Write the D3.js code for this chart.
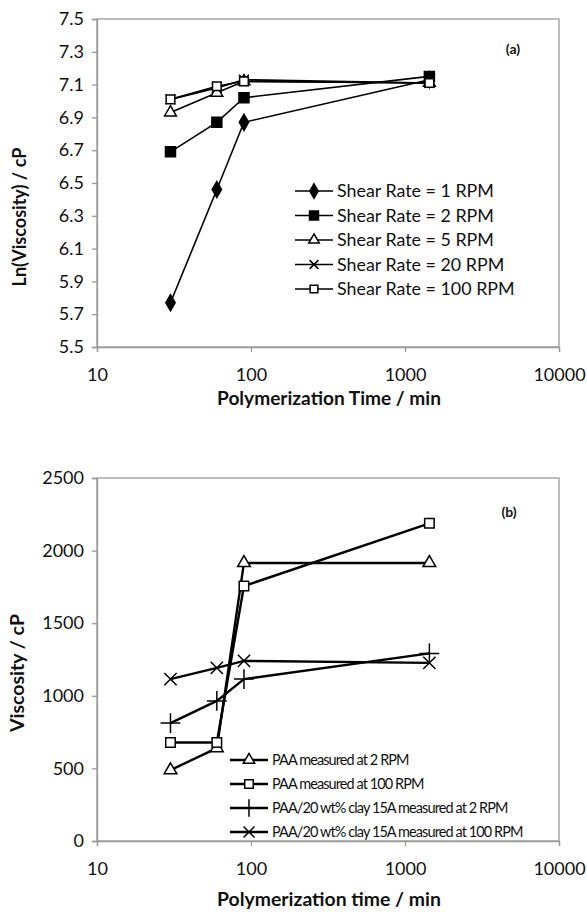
<!DOCTYPE html>
<html>
<head>
<meta charset="utf-8">
<script src="https://cdn.jsdelivr.net/npm/d3@7"></script>
<style>
  body { margin: 0; background: #fff; }
  text { font-family: Lato, "Open Sans", sans-serif; fill: #111; }
</style>
</head>
<body>
<script>
// time points (min)
const times = [30, 60, 90, 1440]

// panel (a) ln(viscosity)
const shearNames = ['Shear Rate = 1 RPM', 'Shear Rate = 2 RPM', 'Shear Rate = 5 RPM', 'Shear Rate = 20 RPM', 'Shear Rate = 100 RPM']
const ln1rpm = [5.77, 6.46, 6.87, 7.13]
const ln2rpm = [6.69, 6.87, 7.02, 7.15]
const ln5rpm = [6.93, 7.05, 7.12, 7.11]
const ln20rpm = [7.01, 7.08, 7.13, 7.11]
const ln100rpm = [7.01, 7.09, 7.12, 7.11]
const lnTicks = [5.5, 5.7, 5.9, 6.1, 6.3, 6.5, 6.7, 6.9, 7.1, 7.3, 7.5]

// panel (b) viscosity
const paaNames = ['PAA measured at 2 RPM', 'PAA measured at 100 RPM', 'PAA/20 wt% clay 15A measured at 2 RPM', 'PAA/20 wt% clay 15A measured at 100 RPM']
const paa2 = [488, 640, 1915, 1915]
const paa100 = [678, 678, 1756, 2188]
const clay2 = [812, 965, 1115, 1292]
const clay100 = [1115, 1192, 1240, 1227]
const viscTicks = [0, 500, 1000, 1500, 2000, 2500]
const timeTicks = [10, 100, 1000, 10000]

const width = 587
const height = 912
const left = 97, right = 559

const svg = d3.select('body').append('svg')
    .attr('width', width)
    .attr('height', height)

const x = d3.scaleLog().domain([10, 10000]).range([left, right])

// scale a text's font so its rendered width matches the reference
function fitWidth(t, target) {
    const size = parseFloat(t.attr('font-size'))
    const w = t.node().getComputedTextLength()
    if (w > 0) t.attr('font-size', (size * target / w).toFixed(2))
}

// marker drawing
function marker(g, type, px, py, size) {
    let sym, fill = 'none'
    if (type == 'diamond') { sym = d3.symbolDiamond; fill = '#000' }
    if (type == 'square') { sym = d3.symbolSquare; fill = '#000' }
    if (type == 'osquare') { sym = d3.symbolSquare; fill = '#fff' }
    if (type == 'triangle') { sym = d3.symbolTriangle; fill = '#fff' }
    if (type == 'x') { sym = d3.symbolX }
    if (type == 'plus') { sym = d3.symbolPlus }
    g.append('path')
        .attr('d', d3.symbol().type(sym).size(size)())
        .attr('transform', 'translate(' + px + ',' + py + ')')
        .attr('fill', fill)
        .attr('stroke', '#000')
        .attr('stroke-width', 1.5)
}

function drawPanel(opts) {
    const y = d3.scaleLinear().domain(opts.yDomain).range([opts.bottom, opts.top])
    const g = svg.append('g')

    // frame
    g.append('rect')
        .attr('x', left).attr('y', opts.top)
        .attr('width', right - left).attr('height', opts.bottom - opts.top)
        .attr('fill', 'none').attr('stroke', '#999').attr('stroke-width', 1.3)

    const yAxis = g.append('g')
        .attr('transform', 'translate(' + left + ',0)')
        .call(d3.axisLeft(y).tickValues(opts.yTicks).tickSize(5).tickPadding(8).tickFormat(opts.yFormat))
    const xAxis = g.append('g')
        .attr('transform', 'translate(0,' + opts.bottom + ')')
        .call(d3.axisBottom(x).tickValues(timeTicks).tickSize(5).tickPadding(16).tickFormat(d3.format('d')))
    for (const a of [yAxis, xAxis]) {
        a.select('.domain').attr('stroke', '#999').attr('stroke-width', 1.3)
        a.selectAll('line').attr('stroke', '#999').attr('stroke-width', 1.3)
        a.selectAll('text').attr('font-family', 'Lato, sans-serif').attr('font-size', 18).attr('fill', '#111')
    }

    // axis titles
    const yt = g.append('text')
        .attr('transform', 'translate(' + opts.yTitleX + ',' + opts.yTitleY + ') rotate(-90)')
        .attr('text-anchor', 'middle')
        .attr('font-size', 16).attr('font-weight', 'bold')
        .text(opts.yTitle)
    fitWidth(yt, opts.yTitleW)
    const xt = g.append('text')
        .attr('x', (left + right) / 2 + 1).attr('y', opts.xTitleY)
        .attr('text-anchor', 'middle')
        .attr('font-size', 16).attr('font-weight', 'bold')
        .text(opts.xTitle)
    fitWidth(xt, 224)
    g.append('text')
        .attr('x', opts.tagX).attr('y', opts.tagY)
        .attr('text-anchor', 'middle')
        .attr('font-size', 14).attr('font-weight', 'bold')
        .text(opts.tag)

    const line = d3.line().x((d, i) => x(times[i])).y(d => y(d))
    opts.series.forEach((s) => {
        g.append('path')
            .datum(s.values)
            .attr('d', line)
            .attr('fill', 'none')
            .attr('stroke', '#000')
            .attr('stroke-width', opts.lineWidth)
        s.values.forEach((v, i) => marker(g, s.marker, x(times[i]), y(v), s.size))
    })

    // legend
    opts.series.forEach((s, i) => {
        const ly = opts.legendY + i * opts.legendStep
        g.append('line')
            .attr('x1', opts.legendX).attr('x2', opts.legendX + 38)
            .attr('y1', ly).attr('y2', ly)
            .attr('stroke', '#000').attr('stroke-width', opts.lineWidth)
        marker(g, s.marker, opts.legendX + 19, ly, s.size * 0.8)
        const t = g.append('text')
            .attr('x', opts.legendX + 42).attr('y', ly)
            .attr('dy', '0.35em')
            .attr('font-size', opts.legendFont)
            .attr('letter-spacing', opts.legendSpacing)
            .text(s.name)
        if (i == 0) {
            fitWidth(t, opts.legendW)
            opts.legendFont = t.attr('font-size')
        }
    })
}

drawPanel({
    top: 19, bottom: 347,
    yDomain: [5.5, 7.5], yTicks: lnTicks, yFormat: d3.format('.1f'),
    yTitle: 'Ln(Viscosity) / cP', yTitleX: 26, yTitleY: 217, yTitleW: 139,
    xTitle: 'Polymerization Time / min', xTitleY: 405,
    tag: '(a)', tagX: 513, tagY: 54,
    lineWidth: 1.6,
    legendX: 295, legendY: 191, legendStep: 24.5, legendFont: 16.5, legendSpacing: 0, legendW: 157,
    series: [
        { name: shearNames[0], values: ln1rpm, marker: 'diamond', size: 75 },
        { name: shearNames[1], values: ln2rpm, marker: 'square', size: 100 },
        { name: shearNames[2], values: ln5rpm, marker: 'triangle', size: 60 },
        { name: shearNames[3], values: ln20rpm, marker: 'x', size: 65 },
        { name: shearNames[4], values: ln100rpm, marker: 'osquare', size: 75 }
    ]
})

drawPanel({
    top: 478, bottom: 841,
    yDomain: [0, 2500], yTicks: viscTicks, yFormat: d3.format('d'),
    yTitle: 'Viscosity / cP', yTitleX: 24, yTitleY: 673, yTitleW: 118,
    xTitle: 'Polymerization time / min', xTitleY: 906,
    tag: '(b)', tagX: 509, tagY: 517,
    lineWidth: 2.4,
    legendX: 230, legendY: 760, legendStep: 24, legendFont: 14, legendSpacing: -0.9, legendW: 136,
    series: [
        { name: paaNames[0], values: paa2, marker: 'triangle', size: 70 },
        { name: paaNames[1], values: paa100, marker: 'osquare', size: 90 },
        { name: paaNames[2], values: clay2, marker: 'plus', size: 130 },
        { name: paaNames[3], values: clay100, marker: 'x', size: 100 }
    ]
})
</script>
</body>
</html>
